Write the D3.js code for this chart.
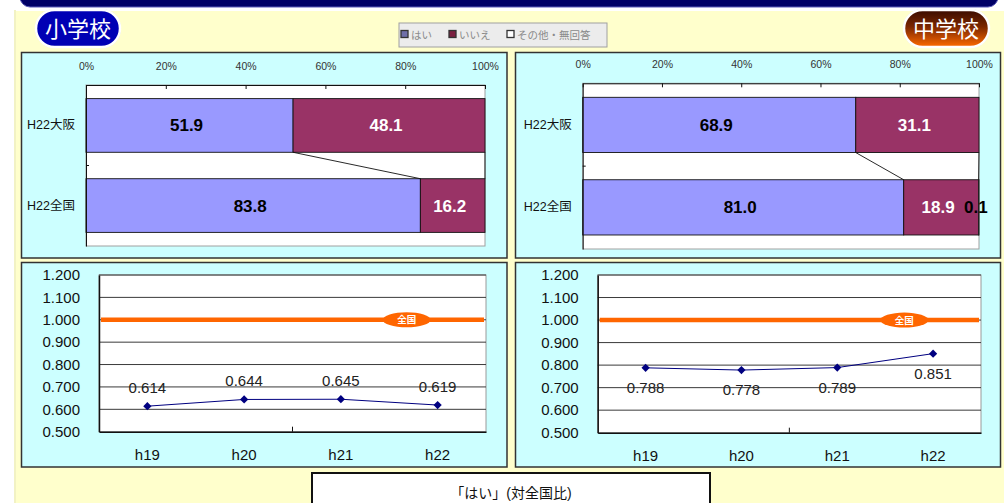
<!DOCTYPE html>
<html><head><meta charset="utf-8">
<script src="https://cdn.jsdelivr.net/npm/d3@7"></script>
<style>
html,body{margin:0;padding:0;background:#fff;}
svg{display:block;}
text{font-family:"Liberation Sans",Arial,"Noto Sans CJK JP",sans-serif;}
.cjk{font-family:"Liberation Sans","Noto Sans CJK JP",sans-serif;}
</style>
</head><body>
<script>
// ---------- data ----------
const barCategories = ["H22大阪", "H22全国"];
const legendNames = ["はい", "いいえ", "その他・無回答"];
const percentTicks = [0, 20, 40, 60, 80, 100];
const elemYes = [51.9, 83.8];
const elemNo = [48.1, 16.2];
const elemOther = [0, 0];
const juniorYes = [68.9, 81.0];
const juniorNo = [31.1, 18.9];
const juniorOther = [0, 0.1];
const years = ["h19", "h20", "h21", "h22"];
const elemRatio = [0.614, 0.644, 0.645, 0.619];
const juniorRatio = [0.788, 0.778, 0.789, 0.851];
const ratioTicks = [0.5, 0.6, 0.7, 0.8, 0.9, 1.0, 1.1, 1.2];
const nationalLevel = 1.0;
const titles = ["小学校", "中学校"];
const footerText = "「はい」(対全国比)";

const W = 1004, H = 503;
const svg = d3.select("body").append("svg").attr("width", W).attr("height", H);
const defs = svg.append("defs");

// background
svg.append("rect").attr("width", W).attr("height", H).attr("fill", "#fff");
svg.append("rect").attr("x", 16).attr("y", 11).attr("width", W - 16).attr("height", H - 11).attr("fill", "#FFFFCC");
svg.append("rect").attr("x", 14).attr("y", 10).attr("width", 2).attr("height", H - 10).attr("fill", "#F2F2C4");
// top navy band
svg.append("rect").attr("x", 20).attr("y", -14).attr("width", 978).attr("height", 21).attr("rx", 10)
  .attr("fill", "#000066").attr("stroke", "#5a5ab8").attr("stroke-width", 1);

// badges
const gOr = defs.append("linearGradient").attr("id", "gOr").attr("x1", 0).attr("y1", 0).attr("x2", 0).attr("y2", 1);
gOr.append("stop").attr("offset", "0%").attr("stop-color", "#3a0c00");
gOr.append("stop").attr("offset", "45%").attr("stop-color", "#7a2600");
gOr.append("stop").attr("offset", "100%").attr("stop-color", "#ff6a00");
function badge(x, y, w, h, fill, label, cx) {
  svg.append("rect").attr("x", x - 1).attr("y", y - 1).attr("width", w + 2).attr("height", h + 2).attr("rx", (h + 2) / 2)
    .attr("fill", "#c8c8c8");
  svg.append("rect").attr("x", x).attr("y", y).attr("width", w).attr("height", h).attr("rx", h / 2)
    .attr("fill", fill).attr("stroke", "#fff").attr("stroke-width", 2.5);
  svg.append("text").attr("class", "cjk").attr("x", cx).attr("y", y + h / 2 + 8).attr("text-anchor", "middle")
    .attr("font-size", 22).attr("fill", "#fff").text(label);
}
badge(36, 10, 84, 37, "#0000B4", titles[0], 78);
badge(904, 10, 85, 37, "url(#gOr)", titles[1], 946);

// legend
const lg = svg.append("g");
lg.append("rect").attr("x", 399).attr("y", 23).attr("width", 208).attr("height", 24).attr("fill", "#ececec").attr("stroke", "#a0a0a0");
const legColors = ["#6f6fa8", "#7a2040", "#ffffff"];
const legX = [401, 449, 507];
legendNames.forEach((n, i) => {
  lg.append("rect").attr("x", legX[i]).attr("y", 30.5).attr("width", 7).attr("height", 7)
    .attr("fill", legColors[i]).attr("stroke", "#333").attr("stroke-width", 1.3);
  lg.append("text").attr("class", "cjk").attr("x", legX[i] + 10).attr("y", 38.5).attr("font-size", 10.5)
    .attr("fill", "#8a8a8a").text(n);
});

// panels
function panel(x, y, w, h) {
  svg.append("rect").attr("x", x).attr("y", y).attr("width", w).attr("height", h)
    .attr("fill", "#CCFFFF").attr("stroke", "#333").attr("stroke-width", 1.5);
}

function barChart(px0, px1, py0, py1, yes, no, other) {
  const rows = barCategories.map((c, i) => ({cat: c, yes: yes[i], no: no[i], other: other[i]}));
  const keys = ["yes", "no", "other"];
  const stack = d3.stack().keys(keys)(rows);
  const x = d3.scaleLinear().domain([0, 100]).range([px0, px1]);
  const y = d3.scaleBand().domain(barCategories).range([py0, py1]).paddingInner(0.33).paddingOuter(0.17);
  const g = svg.append("g");
  g.append("rect").attr("x", px0).attr("y", py0).attr("width", px1 - px0).attr("height", py1 - py0)
    .attr("fill", "#fff").attr("stroke", "#a0a0a0").attr("stroke-width", 1);
  const colors = {yes: "#9999FF", no: "#993366", other: "#FFFFFF"};
  stack.forEach(s => {
    g.selectAll(null).data(s).enter().append("rect")
      .attr("x", d => x(d[0])).attr("y", d => y(d.data.cat))
      .attr("width", d => x(d[1]) - x(d[0])).attr("height", y.bandwidth())
      .attr("fill", colors[s.key]).attr("stroke", "#111").attr("stroke-width", 0.9);
  });
  // series lines
  [0, 1].forEach(k => {
    g.append("line")
      .attr("x1", x(stack[k][0][1])).attr("y1", y(barCategories[0]) + y.bandwidth())
      .attr("x2", x(stack[k][1][1])).attr("y2", y(barCategories[1]))
      .attr("stroke", "#111").attr("stroke-width", 0.9);
  });
  // labels
  const labColors = {yes: "#000", no: "#fff", other: "#000"};
  stack.forEach(s => {
    g.selectAll(null).data(s.filter(d => d[1] - d[0] > 0)).enter().append("text")
      .attr("x", d => (x(d[0]) + x(d[1])) / 2 - 3).attr("y", d => y(d.data.cat) + y.bandwidth() / 2 + 6)
      .attr("text-anchor", "middle").attr("font-weight", "bold").attr("font-size", 17)
      .attr("fill", labColors[s.key]).text(d => d.data[s.key].toFixed(1));
  });
  // top axis
  const ax = g.append("g").attr("transform", `translate(0,${py0})`)
    .call(d3.axisTop(x).tickValues(percentTicks).tickFormat(d => d + "%").tickSizeInner(-4).tickSizeOuter(0).tickPadding(15));
  ax.select(".domain").attr("stroke", "#111");
  ax.selectAll(".tick line").attr("stroke", "#111");
  ax.selectAll("text").attr("font-size", 10.5).attr("fill", "#333").attr("font-family", "Liberation Sans, Arial, sans-serif");
  // left axis
  const ay = g.append("g").attr("transform", `translate(${px0},0)`)
    .call(d3.axisLeft(y).tickSize(0).tickPadding(11));
  ay.select(".domain").attr("stroke", "#111");
  ay.selectAll("text").attr("class", "cjk").attr("font-size", 12.5).attr("fill", "#111");
  const mid = (y(barCategories[0]) + y.bandwidth() + y(barCategories[1])) / 2;
  g.append("line").attr("x1", px0).attr("x2", px0 + 3).attr("y1", mid).attr("y2", mid).attr("stroke", "#111");
}

function lineChart(px0, px1, py0, py1, vals, above, badgeFrac) {
  const x = d3.scaleBand().domain(years).range([px0, px1]).padding(0);
  const y = d3.scaleLinear().domain([0.5, 1.2]).range([py1, py0]);
  const g = svg.append("g");
  g.append("rect").attr("x", px0).attr("y", py0).attr("width", px1 - px0).attr("height", py1 - py0)
    .attr("fill", "#fff").attr("stroke", "#9a9a9a").attr("stroke-width", 1);
  g.selectAll(null).data(ratioTicks.filter(t => t > 0.5)).enter().append("line")
    .attr("x1", px0).attr("x2", px1).attr("y1", d => y(d)).attr("y2", d => y(d))
    .attr("stroke", "#3a3a3a").attr("stroke-width", 1);
  // national line
  g.append("line").attr("x1", px0 + 2).attr("x2", px1 - 2).attr("y1", y(nationalLevel)).attr("y2", y(nationalLevel))
    .attr("stroke", "#FF6600").attr("stroke-width", 4.5);
  const bx = px0 + (px1 - px0) * badgeFrac;
  g.append("ellipse").attr("cx", bx).attr("cy", y(nationalLevel)).attr("rx", 24).attr("ry", 7.5).attr("fill", "#FF6600");
  g.append("text").attr("class", "cjk").attr("x", bx).attr("y", y(nationalLevel) + 3.5).attr("text-anchor", "middle")
    .attr("font-size", 9.5).attr("font-weight", "bold").attr("fill", "#fff").text("全国");
  // axes
  const ay = g.append("g").attr("transform", `translate(${px0},0)`)
    .call(d3.axisLeft(y).tickValues(ratioTicks).tickFormat(d3.format(".3f")).tickSize(0).tickPadding(19));
  ay.select(".domain").attr("stroke", "#111").attr("stroke-width", 1.5);
  ay.selectAll("text").attr("font-size", 15).attr("fill", "#111").attr("font-family", "Liberation Sans, Arial, sans-serif");
  const ax = g.append("g").attr("transform", `translate(0,${py1})`)
    .call(d3.axisBottom(x).tickSize(0).tickPadding(18));
  ax.select(".domain").attr("stroke", "#111").attr("stroke-width", 1.5);
  ax.selectAll("text").attr("font-size", 15).attr("fill", "#111").attr("font-family", "Liberation Sans, Arial, sans-serif");
  const midX = (px0 + px1) / 2;
  g.append("line").attr("x1", midX).attr("x2", midX).attr("y1", py1 - 5).attr("y2", py1).attr("stroke", "#111");
  // series
  const cx = d => x(d) + x.bandwidth() / 2;
  const line = d3.line().x((d, i) => cx(years[i])).y(d => y(d));
  g.append("path").datum(vals).attr("d", line).attr("fill", "none").attr("stroke", "#000080").attr("stroke-width", 1);
  g.selectAll(null).data(vals).enter().append("path")
    .attr("d", d3.symbol(d3.symbolSquare, 34))
    .attr("transform", (d, i) => `translate(${cx(years[i])},${y(d)}) rotate(45)`)
    .attr("fill", "#000080");
  g.selectAll(null).data(vals).enter().append("text")
    .attr("x", (d, i) => cx(years[i])).attr("y", d => above ? y(d) - 13 : y(d) + 25)
    .attr("text-anchor", "middle").attr("font-size", 15).attr("fill", "#222").text(d => d3.format(".3f")(d));
}

panel(21.5, 52.5, 485.5, 205.5);
panel(515.5, 52.5, 485, 205.5);
panel(21.5, 262.5, 485.5, 204.5);
panel(515.5, 262.5, 485, 204.5);

barChart(86, 485, 85, 246, elemYes, elemNo, elemOther);
barChart(582.7, 979, 83.3, 249, juniorYes, juniorNo, juniorOther);
lineChart(99, 486, 275, 431.7, elemRatio, true, 0.795);
lineChart(597.7, 981, 275, 432.7, juniorRatio, false, 0.80);

// footer box
svg.append("rect").attr("x", 312).attr("y", 473).attr("width", 398).attr("height", 40)
  .attr("fill", "#fff").attr("stroke", "#111").attr("stroke-width", 2);
svg.append("text").attr("class", "cjk").attr("x", 511).attr("y", 498).attr("text-anchor", "middle")
  .attr("font-size", 14).attr("fill", "#111").text(footerText);
</script>
</body></html>
